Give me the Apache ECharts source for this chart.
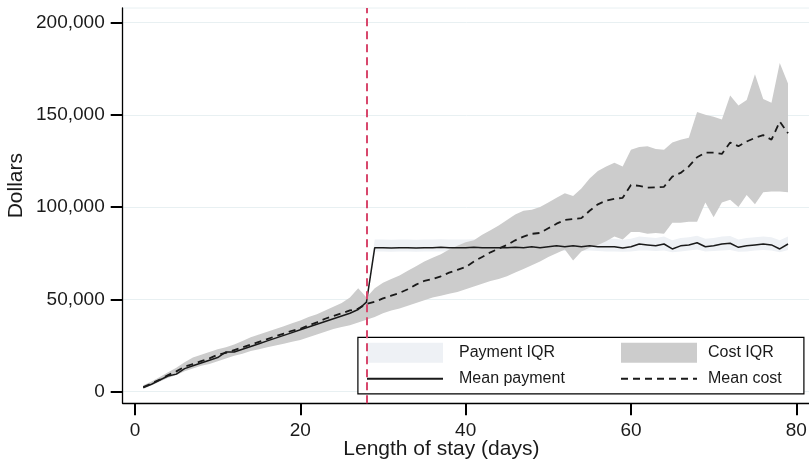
<!DOCTYPE html>
<html>
<head>
<meta charset="utf-8">
<script src="https://cdn.jsdelivr.net/npm/echarts/dist/echarts.min.js"></script>
<style>
html,body{margin:0;padding:0;background:#fff;}
#chart{width:809px;height:463px;}
</style>
</head>
<body>
<div id="chart"></div>
<script>
// Length of stay (days)
const days = [1,2,3,4,5,6,7,8,9,10,11,12,13,14,15,16,17,18,19,20,
  21,22,23,24,25,26,27,28,29,30,31,32,33,34,35,36,37,38,39,40,
  41,42,43,44,45,46,47,48,49,50,51,52,53,54,55,56,57,58,59,60,
  61,62,63,64,65,66,67,68,69,70,71,72,73,74,75,76,77,78,79];

// Values in thousands of dollars
const costMeanK = [2.5,4.5,6.5,9,11,13.5,15,16.5,18,20,
  21,22.5,24,25.5,27,28.5,30,31.5,33,34,
  36,37.5,39.5,41,42.5,44,45,47.5,48.7,50.5,
  52,53.5,55.5,58,60,61,62.5,64.5,66,67.5,
  70.5,73,75.5,77.5,79.5,82,84,85.5,86,88.5,
  91,93,93.5,94,98,101.5,103.5,104.5,105,112,
  111.5,110.5,110.7,111,116.5,118.5,122,127,129.5,129.5,
  128.8,135,133,135.5,137.5,139,136.5,146.3,140];

const costHiK = [3.5,5.5,8,10.5,13,16,18.5,20,21.5,23,
  24,25.5,27.5,29.5,31,32.5,34,35.5,37,38.5,
  40.5,42,44,46,48,51,56,51,56,59,
  61,63,65.5,68,70.5,72.5,74.5,77,79,81,
  82,85,87.5,90,93,96,98,98.5,100,102.5,
  105,107.5,106,110,115.5,119.5,122,124,122,131,
  132.5,133,131.5,131,135,136.5,137.5,151.5,150,149,
  147.5,160.5,155,158,172,158.5,156.5,178,167];

const costLoK = [1.5,3.5,5.5,7.5,9,11,12.5,14,15,16.5,
  18,19.5,20.5,22,23,24,25,26,27,28,
  29.5,31,32.5,34,35,36,37.5,39,40.5,42.5,
  44,45,46.5,48,49.5,51,52,53,54,55.5,
  57,58.5,60,61,62.5,64.5,66.5,68.5,70.5,73,
  75,77,71,76,78,79.5,81.5,84,82.5,86.5,
  86.5,85.5,86,85.5,91.5,91.5,92,92,102.5,94.5,
  102.5,104,100,106.5,101.5,108,108.5,108.5,108];

const payMeanK = [2.2,4,6.3,8.5,9.5,12.5,14,15.5,17,18.5,
  21.5,21.5,23,24.5,26,27.5,29,30.5,32,33.5,
  35,36.5,38,39.5,41,42.5,44.5,48.5,78,78,
  77.8,78,78,77.8,78,78,78.2,78,78,78,
  78.2,78,78,78,78,78.3,78,78.5,78,78.5,
  79,78.5,79,78.5,79,78.5,78.5,78.5,77.8,78.5,
  80,79.5,79,80,77.3,79,79.5,80.7,78.5,79,
  80,80.4,78.2,79,79.5,80,79.5,77.3,80];

const payLoK = [1.8,3.5,5.5,7.5,9,11.5,13,14.5,16,17.5,
  20,20.5,22,23.5,25,26.5,28,29.5,31,32.5,
  34,35.5,37,38.5,40,41.5,43.5,47,76,76,
  75.8,76,76,75.8,76,76,76,76,76,75.8,
  76,76,76,76,76,76,76,76.2,76,76.2,
  76.5,76.2,76.5,76.2,76.5,76.2,76,76,75.8,76,
  76.5,76.5,76.2,76.5,75.5,76,76.5,77,76,76.2,
  76.5,76.8,75.8,76,76.5,76.8,76.5,75.5,76.8];

const payHiK = [2.8,4.8,7.2,9.5,10.8,13.5,15.2,16.8,18.3,20,
  22.8,23,24.5,26,27.5,29,30.5,32,33.5,35,
  36.5,38,39.5,41,42.5,44,46,50,82.5,82.5,
  82.3,82.5,82.5,82.3,82.5,82.5,82.6,82.5,82.5,82.4,
  82.6,82.5,82.5,82.5,82.5,82.6,82.5,82.8,82.5,82.8,
  83.2,82.8,83.2,82.8,83.2,82.8,82.8,82.8,82.3,82.8,
  84,83.6,83.2,84,82,83.2,83.6,84.5,82.8,83.2,
  84,84.3,82.5,83.2,83.6,84,83.6,82,84];

const xTicks = [0, 20, 40, 60, 80];
const yTicks = [0, 50000, 100000, 150000, 200000];
const cutoffDay = 28;

const FONT = 'Liberation Sans';
const PAY_BAND = '#eef1f5';
const COST_BAND = '#cccccc';
const toPairs = arr => days.map((d, i) => [d, arr[i] * 1000]);

function bandSeries(name, lo, hi, color, z) {
  const rows = days.map((d, i) => [d, lo[i] * 1000, hi[i] * 1000]);
  return {
    type: 'custom', name: name, data: rows, z: z, silent: true,
    encode: {x: 0, y: [1, 2]},
    itemStyle: {color: color},
    renderItem: function (params, api) {
      if (params.dataIndex !== 0) return null;
      const top = rows.map(r => api.coord([r[0], r[2]]));
      const bot = rows.map(r => api.coord([r[0], r[1]])).reverse();
      return {type: 'polygon', shape: {points: top.concat(bot)}, style: {fill: color, stroke: null}};
    }
  };
}

const chart = echarts.init(document.getElementById('chart'), null, {renderer: 'canvas'});
chart.setOption({
  animation: false,
  backgroundColor: '#ffffff',
  textStyle: {fontFamily: FONT},
  grid: {left: 122.7, right: -1, top: 8, bottom: 59.7, show: true, borderColor: '#e8f0f2', borderWidth: 1,
         backgroundColor: 'transparent', containLabel: false, outerBoundsMode: 'none'},
  xAxis: {
    type: 'value', min: -1.49, max: 81.66,
    name: 'Length of stay (days)', nameLocation: 'middle', nameGap: 35, nameMoveOverlap: false,
    nameTextStyle: {fontSize: 21, color: '#1a1a1a', fontFamily: FONT, padding: [0, 50, 0, 0]},
    axisLine: {show: true, onZero: false, lineStyle: {color: '#000', width: 1.3}},
    axisTick: {show: true, length: 12, lineStyle: {color: '#000', width: 2}, customValues: xTicks},
    axisLabel: {fontSize: 19, color: '#1a1a1a', margin: 18, customValues: xTicks},
    splitLine: {show: false}
  },
  yAxis: {
    type: 'value', min: -6300, max: 207850,
    name: 'Dollars', nameLocation: 'middle', nameGap: 96, nameMoveOverlap: false,
    nameTextStyle: {fontSize: 21, color: '#1a1a1a', fontFamily: FONT, padding: [0, 0, 0, 40]},
    axisLine: {show: true, onZero: false, lineStyle: {color: '#000', width: 1.3}},
    axisTick: {show: true, length: 12, lineStyle: {color: '#000', width: 2}, customValues: yTicks},
    axisLabel: {fontSize: 19, color: '#1a1a1a', margin: 18, customValues: yTicks,
      formatter: v => Number(v).toLocaleString('en-US')},
    splitLine: {show: true, lineStyle: {color: '#e8f0f2', width: 1}}
  },
  legend: [
    {left: 366, top: 342.7, orient: 'vertical', itemWidth: 76, itemHeight: 20, itemGap: 8, padding: 0,
     data: [{name: 'Payment IQR', icon: 'rect', itemStyle: {color: PAY_BAND}},
            {name: 'Mean payment', itemStyle: {opacity: 0}}],
     textStyle: {fontSize: 16, color: '#1a1a1a', fontFamily: FONT, padding: [0, 0, 0, 11]}},
    {left: 620, top: 342.7, orient: 'vertical', itemWidth: 76, itemHeight: 20, itemGap: 8, padding: 0,
     data: [{name: 'Cost IQR', icon: 'rect', itemStyle: {color: COST_BAND}},
            {name: 'Mean cost', itemStyle: {opacity: 0}}],
     textStyle: {fontSize: 16, color: '#1a1a1a', fontFamily: FONT, padding: [0, 0, 0, 6]}}
  ],
  graphic: [
    {type: 'rect', left: 357.3, top: 336.7, z: 3,
     shape: {width: 446, height: 56.6},
     style: {fill: '#ffffff', stroke: '#000000', lineWidth: 1.2}}
  ],
  series: [
    bandSeries('Payment IQR', payLoK, payHiK, PAY_BAND, 1),
    bandSeries('Cost IQR', costLoK, costHiK, COST_BAND, 1.5),
    {name: 'Mean payment', type: 'line', data: toPairs(payMeanK), symbol: 'none',
     lineStyle: {color: '#1a1a1a', width: 1.5}, itemStyle: {color: '#1a1a1a'}, z: 2.5,
     markLine: {silent: true, symbol: ['none', 'none'], label: {show: false}, z: 6,
       lineStyle: {color: '#d8476c', type: [8, 5], width: 2},
       data: [{xAxis: cutoffDay}]}},
    {name: 'Mean cost', type: 'line', data: toPairs(costMeanK), symbol: 'none',
     lineStyle: {color: '#1a1a1a', width: 1.8, type: [7, 5]}, itemStyle: {color: '#1a1a1a'}, z: 2.5}
  ]
});
</script>
</body>
</html>
